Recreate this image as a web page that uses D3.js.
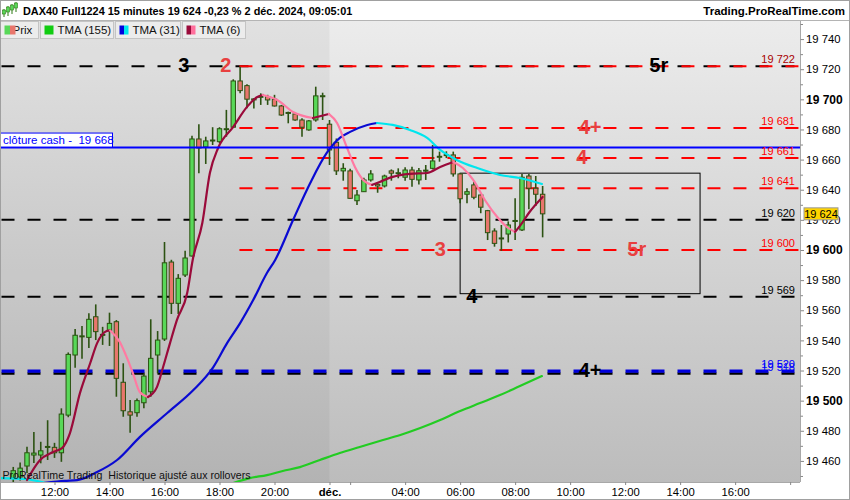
<!DOCTYPE html>
<html><head><meta charset="utf-8">
<script src="https://cdn.jsdelivr.net/npm/d3@7"></script>
<style>
body{margin:0;background:#fff;}
svg{display:block;font-family:"Liberation Sans",Arial,sans-serif;}
.pre{white-space:pre;}
</style>
</head><body><svg id="c" width="850" height="500"></svg>
<script>
// ---------------- DATA ----------------
const title = "DAX40 Full1224 15 minutes 19 624 -0,23 % 2 déc. 2024, 09:05:01";
const site = "Trading.ProRealTime.com";
const footer = "ProRealTime Trading  Historique ajusté aux rollovers";
const legendNames = ["Prix", "TMA (155)", "TMA (31)", "TMA (6)"];

// 15-minute bars; bar 0 = 12:00 (previous session), bar 40 = first bar of 2 déc.
const firstBar = -6;
const opens  = [19448.6,19449.3,19456.6,19463.9,19463.9,19469,19469,19465.4,19490.4,19530.3,19542.5,19542,19555.7,19544,19546.4,19552.4,19512.2,19492.6,19492,19498.6,19505.9,19530.3,19540.9,19592,19564.6,19583.4,19596,19673.7,19668.4,19672.5,19671.9,19680,19681.5,19712.2,19709.1,19699.6,19701.5,19701.8,19700.1,19695.6,19691,19690.3,19686.3,19679.7,19686.3,19702,
                19683.5,19671.5,19652.5,19652.5,19632.7,19638.7,19646.5,19643.6,19642.5,19652.5,19651,19648.3,19653.1,19646.5,19652.8,19654.2,19661.7,19662.9,19663.1,19650.5,19637,19643.2,19636.5,19626.1,19612.6,19607.5,19610.6,19619.4,19613.3,19649.1,19641,19637];
const highs  = [19456,19459,19469.4,19479.2,19472.7,19487,19472,19494.9,19532,19547.5,19549.5,19558,19563.9,19549,19558.4,19553.5,19524.8,19500.4,19501.5,19518,19554,19546.2,19605.3,19593.5,19584,19599.5,19675.9,19683.5,19675.2,19681.5,19681.5,19693,19713.3,19721.7,19710,19700.8,19704,19703,19703,19696.3,19691.8,19690.8,19687.4,19686.3,19708.4,19704.4,
                19686.3,19674,19657.6,19654,19639.8,19648,19653,19644.7,19650,19653.5,19654.2,19655,19655.3,19654.5,19656.4,19669.7,19665.3,19665.5,19665.3,19651,19641,19645.3,19637.6,19626.6,19614.4,19616.6,19619,19634.3,19650.5,19650.5,19649.1,19642.5];
const lows   = [19446,19447,19452,19458.6,19458.4,19460.6,19462,19459.4,19489,19521.8,19527.8,19535,19540.2,19537,19536.3,19502.6,19489.3,19478.7,19489.3,19495,19502.6,19518.1,19539.6,19557.5,19557.5,19582,19595.6,19650.9,19657.1,19669.7,19670.9,19675.2,19681,19704,19694.1,19694,19696.3,19696.3,19695.2,19689,19684.1,19685.8,19675.2,19679.2,19685.2,19686.3,
                19656.4,19649.8,19646,19634,19629.9,19638.5,19645.4,19638,19641.5,19646,19647.6,19646,19642,19643.5,19646.5,19653.5,19658.6,19661,19648.7,19631,19631,19633.7,19624.4,19606.6,19602.2,19599.5,19605,19606.6,19612.6,19627,19629.2,19608.4];
const closes = [19453.5,19455.2,19465.4,19465.2,19466.7,19469.6,19465.4,19491.1,19530.7,19543.4,19543,19554,19545.8,19543.5,19551.3,19514.8,19493.3,19490.4,19500,19516.3,19528.1,19540.2,19591.5,19564.6,19581.2,19594.7,19673.7,19667.7,19672.4,19673,19680.5,19680.5,19712.2,19705.8,19700.1,19700.3,19702,19699.6,19695.6,19689.6,19691.3,19686.3,19681.5,19685.7,19702.3,19702.4,
                19666.4,19652.5,19654.2,19634.3,19636.5,19646.5,19650.5,19642.5,19649.1,19651,19651.3,19653.1,19646.9,19652.6,19653,19659.1,19662.2,19663.3,19650.5,19634,19638.7,19635,19628.4,19611.5,19604.4,19608,19616.6,19619.6,19648.3,19641,19637,19624];

// moving averages: [bar, value]
const tma6 = [[-4,19447.3],[-2.1,19460.6],[-0.2,19465.9],[1.1,19468.5],[2.25,19478.5],[3.7,19505],[5.2,19525],[6.2,19538.2],[7.6,19546.2],[8.1,19546.6],[9.5,19538.9],[10.5,19528.9],[11.4,19518.3],[12.4,19505.7],[13.6,19502.4],[14.9,19509],[15.8,19522.3],[16.8,19538.2],[17.8,19553.5],[19.3,19571.4],[20.1,19593.4],[21.5,19617.9],[22.6,19651.1],[23.8,19667.7],[26,19681.7],[28,19695],[29.5,19701.6],[30.3,19702.9],[32.4,19699.6],[34.7,19691.6],[37.6,19687.6],[39.9,19690.3],[41.1,19684.3],[42.5,19668.4],[43.7,19655.1],[44.9,19646.5],[46.2,19643.2],[47.3,19645.2],[49.2,19648.5],[51.7,19650.5],[54.2,19651.1],[56.1,19655.1],[58,19658.4],[59.4,19654.4],[60.9,19646.5],[62.6,19633.2],[64.4,19621.9],[65.8,19615.3],[67,19612],[68,19617.9],[69.1,19625.2],[71,19635.2]];
const tma31 = [[-7.9,19448.6],[-4.3,19448],[-1.4,19445.5],[1.5,19446.8],[3.3,19447.3],[6.2,19452.6],[9.1,19460.6],[12.4,19475.8],[16.4,19491.8],[20.2,19507],[23.1,19522.3],[25.1,19538.2],[27,19551.5],[28.9,19566.8],[30.9,19584.7],[32.1,19593.4],[34.7,19619.9],[37.2,19644.5],[39.6,19664.4],[41.5,19674.4],[43,19678.4],[45.5,19683],[46.9,19684.3],[49.2,19683],[51.7,19679.7],[54.2,19674.4],[56.1,19666.4],[58.5,19659.8],[61.5,19654.4],[64.8,19649.8],[67.7,19647.8],[70.9,19643.8]];
const tma155 = [[25.8,19445],[28.4,19448.6],[30.9,19450.6],[33.2,19453.3],[35.7,19455.9],[38.6,19460.6],[41.5,19465.2],[44.4,19469.2],[47.3,19473.2],[50.3,19477.2],[53.2,19481.8],[56.1,19487.1],[59,19493.1],[61.9,19498.4],[64.8,19503.7],[67.7,19509.7],[70.9,19516.3]];

// horizontal levels
const redLevels = [19722, 19681, 19661, 19641, 19600];
const redLevelStartBar = 26.9;
const blackLevels = [19722, 19620, 19569, 19518];
const blueLevels = [19520];
const cashClose = 19668;
const lastPrice = 19624;
const zoneBars = [59, 93.9];
const zoneValues = [19571, 19651];

// big annotations on the levels
const noteTexts  = ["3", "2", "5r", "4+", "4", "3", "5r", "4", "4+"];
const noteBars   = [18.8, 24.9, 87.9, 77.9, 76.7, 56.1, 84.7, 60.7, 77.9];
const noteValues = [19722, 19722, 19722, 19681, 19661, 19600, 19600, 19569, 19520];
const noteKinds  = ["k", "r", "k", "r", "r", "r", "r", "k", "k"];

// axes
const timeTickBars = [0, 8, 16, 24, 32, 40, 43, 51, 59, 67, 75, 83, 91, 99, 107];
const timeTickLabels = ["12:00","14:00","16:00","18:00","20:00","déc.","","04:00","06:00","08:00","10:00","12:00","14:00","16:00",""];
const yLabelValues = [19460,19480,19500,19520,19540,19560,19580,19600,19620,19640,19660,19680,19700,19720,19740];
const yBoldValues = [19500, 19600, 19700];
const daySplitBar = 40;

// ---------------- DRAW ----------------
const svg = d3.select("#c");
const W = 850, H = 500;
const P = {l: 0, r: 800, t: 21, b: 482};
const x = d3.scaleLinear().domain([-8, 108.4]).range([-0.5, 799.75]);
const y = d3.scaleLinear().domain([19446, 19752]).range([P.b, P.t]);
const fmt = v => d3.format(",")(v).replace(/,/g, " ");

const defs = svg.append("defs");
const g1 = defs.append("linearGradient").attr("id","bg").attr("x1",0).attr("y1",0).attr("x2",0).attr("y2",1);
g1.append("stop").attr("offset","0").attr("stop-color","#ececec");
g1.append("stop").attr("offset","1").attr("stop-color","#bcbcbc");
defs.append("clipPath").attr("id","clip").append("rect")
  .attr("x",P.l).attr("y",P.t).attr("width",P.r-P.l).attr("height",P.b-P.t);

svg.append("rect").attr("width",W).attr("height",H).attr("fill","#fff");
svg.append("rect").attr("x",P.l).attr("y",P.t).attr("width",P.r-P.l).attr("height",P.b-P.t).attr("fill","url(#bg)");
svg.append("rect").attr("x",P.l).attr("y",P.t).attr("width",x(daySplitBar)-P.l).attr("height",P.b-P.t)
  .attr("fill","#000").attr("opacity",0.045);

const plot = svg.append("g").attr("clip-path","url(#clip)");

// dashed levels
const dash = "13,13";
blackLevels.forEach(v => {
  plot.append("line").attr("x1",P.l).attr("x2",P.r).attr("y1",y(v)).attr("y2",y(v))
    .attr("stroke","#000").attr("stroke-width",v===19518?2.6:2).attr("stroke-dasharray",dash).attr("stroke-dashoffset",-1.5);
});
redLevels.forEach(v => {
  plot.append("line").attr("x1",x(redLevelStartBar)).attr("x2",P.r).attr("y1",y(v)).attr("y2",y(v))
    .attr("stroke","#ff0000").attr("stroke-width",2).attr("stroke-dasharray",dash);
});
blueLevels.forEach(v => {
  plot.append("line").attr("x1",P.l).attr("x2",P.r).attr("y1",y(v)+0.6).attr("y2",y(v)+0.6)
    .attr("stroke","#0000dd").attr("stroke-width",3.4).attr("stroke-dasharray",dash).attr("stroke-dashoffset",-1.5);
});

// zone rectangle
plot.append("rect").attr("x",x(zoneBars[0])).attr("y",y(zoneValues[1]))
  .attr("width",x(zoneBars[1])-x(zoneBars[0])).attr("height",y(zoneValues[0])-y(zoneValues[1]))
  .attr("fill","none").attr("stroke","#000").attr("stroke-width",1);

// candles
const candles = opens.map((o,i) => ({b:firstBar+i, o, h:highs[i], l:lows[i], c:closes[i]}));
const cg = plot.append("g");
cg.selectAll("line.w").data(candles).join("line").attr("class","w")
  .attr("x1",d=>x(d.b)).attr("x2",d=>x(d.b)).attr("y1",d=>y(d.h)).attr("y2",d=>y(d.l))
  .attr("stroke","#2c5212").attr("stroke-width",1.6);
cg.selectAll("rect.b").data(candles).join("rect").attr("class","b")
  .attr("x",d=>x(d.b)-2.2).attr("width",4.4)
  .attr("y",d=>y(Math.max(d.o,d.c)))
  .attr("height",d=>Math.max(1,Math.abs(y(d.o)-y(d.c))))
  .attr("fill",d=>d.c>=d.o?"#58d858":"#e8766c")
  .attr("stroke","#2c5212").attr("stroke-width",1);

// moving averages, coloured by direction
function drawTrend(pts, upColor, downColor, width){
  const line = d3.line().x(d=>x(d[0])).y(d=>y(d[1])).curve(d3.curveMonotoneX);
  let run = [pts[0]], dir = null;
  const runs = [];
  for (let i=1;i<pts.length;i++){
    const d = pts[i][1] >= pts[i-1][1] ? "up" : "down";
    if (dir === null || d === dir){ run.push(pts[i]); dir = d; }
    else { runs.push({pts:run, dir}); run = [pts[i-1], pts[i]]; dir = d; }
  }
  runs.push({pts:run, dir});
  runs.forEach(r => {
    plot.append("path").attr("d", line(r.pts)).attr("fill","none")
      .attr("stroke", r.dir==="up"?upColor:downColor).attr("stroke-width",width)
      .attr("stroke-linecap","round");
  });
}
drawTrend(tma155, "#22cc22", "#22cc22", 2.2);
drawTrend(tma31, "#0a0ad2", "#00e6ee", 2.2);
drawTrend(tma6, "#9a0a3a", "#ff7aa2", 2.2);

// cash close line
plot.append("line").attr("x1",P.l).attr("x2",P.r).attr("y1",y(cashClose)).attr("y2",y(cashClose))
  .attr("stroke","#0000ff").attr("stroke-width",2);

// annotations
plot.selectAll("text.note").data(noteTexts).join("text").attr("class","note")
  .attr("x",(d,i)=>x(noteBars[i])).attr("y",(d,i)=>y(noteValues[i])+6)
  .attr("text-anchor","middle").attr("font-size",20).attr("font-weight","bold")
  .attr("fill",(d,i)=>noteKinds[i]==="r"?"#e84040":"#000").text(d=>d);

// right-side level values
const lvlLabels = [];
redLevels.forEach(v => lvlLabels.push({v, color: blackLevels.includes(v) ? "#a80000" : "#ff0000"}));
blackLevels.forEach(v => { if(!redLevels.includes(v)) lvlLabels.push({v, color: v===19518 ? "#0000ff" : "#000"}); });
blueLevels.forEach(v => lvlLabels.push({v, color:"#0000ff"}));
plot.selectAll("text.lv").data(lvlLabels).join("text").attr("class","lv")
  .attr("x",795).attr("y",d=>y(d.v)-3).attr("text-anchor","end").attr("font-size",11)
  .attr("fill",d=>d.color).text(d=>fmt(d.v));

// cash label
svg.append("rect").attr("x",0.5).attr("y",y(cashClose)-14.5).attr("width",112).attr("height",14)
  .attr("fill","#fff").attr("stroke","#0000ff").attr("stroke-width",1);
svg.append("text").attr("class","pre").attr("x",3).attr("y",y(cashClose)-3.5).attr("font-size",11.5)
  .attr("fill","#0000ff").text("clôture cash -  " + fmt(cashClose));

// footer
svg.append("text").attr("class","pre").attr("x",2.5).attr("y",478.5).attr("font-size",11.2)
  .attr("textLength",248).attr("lengthAdjust","spacingAndGlyphs").attr("fill","#111").text(footer);

// header
svg.append("rect").attr("width",W).attr("height",P.t).attr("fill","#fff");
svg.append("line").attr("x1",0).attr("x2",W).attr("y1",20.5).attr("y2",20.5).attr("stroke","#b4b4b4");
const ic = svg.append("g");
[[4,9,13,10,12],[8,6,12,7,10],[12,4,10,5,8],[16,2,8,3,6]].forEach(c=>{
  ic.append("line").attr("x1",c[0]).attr("x2",c[0]).attr("y1",c[1]).attr("y2",c[2]+4).attr("stroke","#2c7a12").attr("stroke-width",1);
  ic.append("rect").attr("x",c[0]-1.5).attr("y",c[3]).attr("width",3).attr("height",c[4]-c[3]+2).attr("fill","#58d858").attr("stroke","#2c7a12").attr("stroke-width",0.6);
});
svg.append("text").attr("x",23).attr("y",14.5).attr("font-size",10.9).attr("font-weight","bold").text(title);
svg.append("text").attr("x",845).attr("y",14.5).attr("text-anchor","end").attr("font-size",11.5).attr("font-weight","bold").text(site);

// legend
const legX = [0.5, 40.5, 115.5, 182.5];
const legW = [38, 73, 65, 63];
const legIcon = [["#58d858","#e8766c"],["#11cc11","#11cc11"],["#0000dd","#00e6ee"],["#9a0a3a","#ff6f9c"]];
legendNames.forEach((n,i)=>{
  svg.append("rect").attr("x",legX[i]).attr("y",21.5).attr("width",legW[i]).attr("height",17)
    .attr("fill","#ececec").attr("stroke","#c4c4c4");
  svg.append("text").attr("x",legX[i]+(i===0?12:17)).attr("y",34).attr("font-size",11.5).attr("fill","#111").text(n);
  const iw = i===0 ? 5.5 : 4.5;
  svg.append("rect").attr("x",legX[i]+4).attr("y",25.5).attr("width",iw).attr("height",9).attr("fill",legIcon[i][0]);
  svg.append("rect").attr("x",legX[i]+4+iw).attr("y",25.5).attr("width",iw).attr("height",9).attr("fill",legIcon[i][1]);
});

// right axis
svg.append("rect").attr("x",P.r).attr("y",P.t).attr("width",W-P.r).attr("height",H-P.t).attr("fill","#fff");
svg.append("rect").attr("x",0).attr("y",P.b).attr("width",P.r).attr("height",H-P.b).attr("fill","#fff");
const yTickValues = d3.range(19450, 19751, 10);
const yAxis = svg.append("g").attr("transform",`translate(${P.r},0)`)
  .call(d3.axisRight(y).tickValues(yTickValues).tickSize(3).tickPadding(3)
        .tickFormat(v => yLabelValues.includes(v) ? fmt(v) : ""));
yAxis.select(".domain").attr("stroke","#a8a8a8").attr("d",`M0.5,${P.t}V${P.b}`);
yAxis.selectAll(".tick line").attr("stroke","#888").attr("x1",0.5).attr("x2",d=>yLabelValues.includes(d)?4:3);
yAxis.selectAll(".tick text").attr("font-size",d=>yBoldValues.includes(d)?12:11.3)
  .attr("font-weight",d=>yBoldValues.includes(d)?"bold":"normal")
  .attr("fill","#000").attr("font-family","Liberation Sans, Arial, sans-serif").attr("x",6);

// price box
svg.append("rect").attr("x",804).attr("y",y(lastPrice)-6).attr("width",34).attr("height",12)
  .attr("fill","#ffd400").attr("stroke","#9a9a9a").attr("stroke-width",1);
svg.append("text").attr("x",821).attr("y",y(lastPrice)+4).attr("text-anchor","middle").attr("font-size",11).text(fmt(lastPrice));

// bottom axis
const xAxis = svg.append("g").attr("transform",`translate(0,${P.b})`)
  .call(d3.axisBottom(x).tickValues(timeTickBars).tickSize(3).tickPadding(3)
        .tickFormat((d,i)=>timeTickLabels[i]));
xAxis.select(".domain").attr("stroke","#a8a8a8").attr("d",`M${P.l},0.5H${P.r}`);
xAxis.selectAll(".tick line").attr("stroke","#888");
xAxis.selectAll(".tick text").attr("font-size",11.3).attr("fill","#000")
  .attr("font-family","Liberation Sans, Arial, sans-serif")
  .attr("font-weight",(d,i)=>timeTickLabels[i]==="déc."?"bold":"normal");

// outer frame
svg.append("rect").attr("x",0.5).attr("y",0.5).attr("width",W-1).attr("height",H-1).attr("fill","none").attr("stroke","#a0a0a0");
</script>
</body></html>
